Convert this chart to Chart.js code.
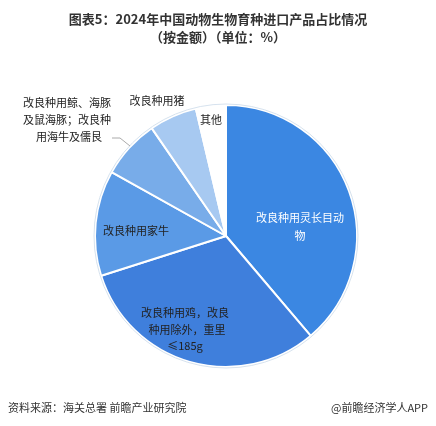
<!DOCTYPE html>
<html><head><meta charset="utf-8">
<script src="https://cdn.jsdelivr.net/npm/chart.js@4"></script>
<style>body{margin:0;background:#fff}#wrap{width:436px;height:426px}</style>
</head><body><div id="wrap"><canvas id="c"></canvas></div>
<script>
var categories = ['改良种用灵长目动物', '改良种用鸡，改良种用除外，重量≤185g', '改良种用家牛', '改良种用鲸、海豚及鼠海豚；改良种用海牛及儒艮', '改良种用猪', '其他'];
var shares = [38.8, 31.3, 13.0, 7.3, 5.9, 3.7];
var colors = ['#3b87e2', '#3f7fdc', '#5a9ae6', '#78ace9', '#a7c9f1', '#ffffff'];

var font = '"Noto Sans CJK SC", sans-serif';
var textPlugin = {
  id: 'texts',
  afterDraw: function (chart) {
    var ctx = chart.ctx;
    ctx.save();
    ctx.textBaseline = 'middle';
    ctx.textAlign = 'center';
    ctx.fillStyle = '#333';
    ctx.font = 'bold 13px ' + font;
    ctx.fillText('图表5：2024年中国动物生物育种进口产品占比情况', 218, 19);
    ctx.fillText('（按金额）（单位：%）', 218, 37);
    ctx.font = '11px ' + font;
    ctx.fillStyle = '#fff';
    ctx.fillText('改良种用灵长目动', 300, 218);
    ctx.fillText('物', 300, 236);
    ctx.fillStyle = '#222';
    ctx.fillText('改良种用鸡，改良', 185, 313);
    ctx.fillText('种用除外，重里', 187, 330);
    ctx.fillText('≤185g', 185, 346);
    ctx.fillText('改良种用家牛', 136, 231);
    ctx.fillText('改良种用猪', 157, 101);
    ctx.fillText('其他', 211, 120);
    ctx.textAlign = 'left';
    ctx.fillText('改良种用鲸、海豚', 23, 103);
    ctx.fillText('及鼠海豚；改良种', 23, 120);
    ctx.fillText('用海牛及儒艮', 36, 137);
    ctx.strokeStyle = '#aaa';
    ctx.lineWidth = 1;
    ctx.beginPath();
    ctx.moveTo(112, 138); ctx.lineTo(120, 138); ctx.lineTo(130, 146);
    ctx.stroke();
    ctx.fillStyle = '#333';
    ctx.fillText('资料来源：海关总署 前瞻产业研究院', 8, 408);
    ctx.textAlign = 'right';
    ctx.fillText('@前瞻经济学人APP', 428, 408);
    ctx.restore();
  }
};

new Chart(document.getElementById('c'), {
  type: 'pie',
  data: {
    labels: categories,
    datasets: [{ data: shares, backgroundColor: colors, borderColor: '#ffffff', borderWidth: 2 }]
  },
  options: {
    responsive: true, maintainAspectRatio: false, animation: false,
    layout: { padding: { top: 104, bottom: 58, left: 94, right: 78 } },
    plugins: { legend: { display: false }, tooltip: { enabled: false } }
  },
  plugins: [textPlugin, {
    id: 'rim',
    afterDatasetsDraw: function (chart) {
      var arc = chart.getDatasetMeta(0).data[0];
      var ctx = chart.ctx;
      ctx.save();
      ctx.strokeStyle = '#d6e2ee';
      ctx.lineWidth = 1;
      ctx.beginPath();
      ctx.arc(arc.x, arc.y, arc.outerRadius + 1, 0, Math.PI * 2);
      ctx.stroke();
      ctx.restore();
    }
  }]
});
</script></body></html>
